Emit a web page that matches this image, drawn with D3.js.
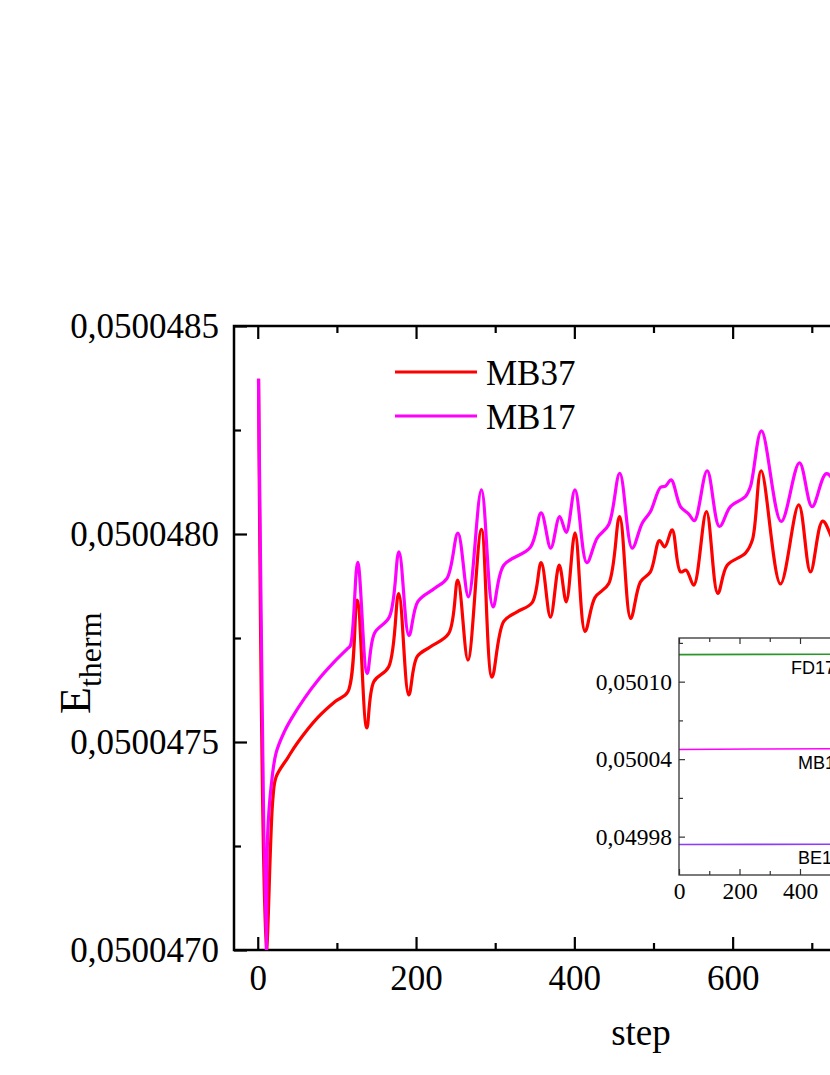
<!DOCTYPE html>
<html>
<head>
<meta charset="utf-8">
<script src="https://cdn.jsdelivr.net/npm/d3@7"></script>
<style>
  body { margin: 0; background: #fff; }
  svg { display: block; }
</style>
</head>
<body>
<svg id="chart" width="830" height="1075"></svg>
<script>
// ---------------- data ----------------
const seriesNames = ["MB37", "MB17"];

const mb37Steps = [1, 10.6, 19, 23.2, 37.9, 49.8, 75.4, 98.2, 113.7, 125.6, 137.7, 146.6, 165.5, 178.1, 190.8,
  201.4, 218.2, 241.3, 252.7, 265.6, 282.6, 295.9, 310.8, 327.7, 346.7, 358.1, 369.8, 380.9, 389.8, 400.9,
  413.5, 426, 443.5, 457.2, 471.1, 483.5, 496.1, 507.5, 514.2, 523.6, 534.1, 541.3, 550.9, 566.9, 581.2,
  593.1, 616.2, 625, 636, 660.4, 683.5, 698.3, 713.7, 730, 749];
const mb37Values = [0.050048373, 0.050046990, 0.050047361, 0.050047416, 0.050047462, 0.050047497, 0.050047558,
  0.050047598, 0.050047620, 0.050047841, 0.050047534, 0.050047645, 0.050047681, 0.050047857, 0.050047613,
  0.050047705, 0.050047729, 0.050047761, 0.050047889, 0.050047697, 0.050048011, 0.050047656, 0.050047790,
  0.050047813, 0.050047835, 0.050047931, 0.050047800, 0.050047925, 0.050047837, 0.050048003,
  0.050047766, 0.050047847, 0.050047881, 0.050048042, 0.050047797, 0.050047885, 0.050047909, 0.050047984,
  0.050047969, 0.050048010, 0.050047909, 0.050047913, 0.050047877, 0.050048054, 0.050047857,
  0.050047925, 0.050047954, 0.050047986, 0.050048152, 0.050047880, 0.050048070, 0.050047909, 0.050048031,
  0.050047974, 0.050047938];

const mb17Steps = [1, 10.6, 12.6, 16.9, 23.2, 33.7, 42.2, 59, 75.8, 96.9, 113.7, 117.1, 126.3, 138.2, 147.4,
  166.4, 178.4, 191, 202.4, 223.2, 239.3, 252.9, 266.2, 282.6, 297.2, 310.8, 344.5, 358.1, 370.2, 381.4,
  389.8, 400.8, 415.7, 428.8, 443.5, 457.4, 473, 485.7, 496.2, 508.8, 515.1, 522.3, 534.1, 544.6, 551.7,
  567.8, 583.3, 597.2, 616.2, 622.5, 636.4, 661.3, 684.4, 700.4, 718.5, 736.4, 755.3];
const mb17Values = [0.050048373, 0.050046990, 0.050047281, 0.050047393, 0.050047474, 0.050047525, 0.050047555,
  0.050047605, 0.050047648, 0.050047693, 0.050047725, 0.050047732, 0.050047932, 0.050047665, 0.050047761,
  0.050047801, 0.050047957, 0.050047756, 0.050047838, 0.050047869, 0.050047894, 0.050048002, 0.050047849,
  0.050048106, 0.050047825, 0.050047925, 0.050047968, 0.050048051, 0.050047966, 0.050048042,
  0.050048004, 0.050048106, 0.050047931, 0.050047990, 0.050048023, 0.050048146, 0.050047966, 0.050048026,
  0.050048054, 0.050048112, 0.050048115, 0.050048130, 0.050048066, 0.050048048, 0.050048032,
  0.050048152, 0.050048018, 0.050048066, 0.050048090, 0.050048114, 0.050048248, 0.050048030, 0.050048171,
  0.050048066, 0.050048145, 0.050048106, 0.050048082];

const xMajorTicks = [0, 200, 400, 600, 800, 1000];
const xMajorLabels = ["0", "200", "400", "600", "800", "1000"];
const xMinorTicks = [100, 300, 500, 700, 900];
const yMajorTicks = [0.0500470, 0.0500475, 0.0500480, 0.0500485];
const yMajorLabels = ["0,0500470", "0,0500475", "0,0500480", "0,0500485"];
const yMinorTicks = [0.05004725, 0.05004775, 0.05004825];

// inset data
const insetNames = ["FD17", "MB17", "BE17"];
const insetSteps = [0, 250, 500, 750, 1000];
const insetFD = [0.0501209, 0.0501211, 0.0501212, 0.0501213, 0.0501214];
const insetMB = [0.0500475, 0.0500478, 0.0500480, 0.0500481, 0.0500482];
const insetBE = [0.0499739, 0.0499740, 0.0499741, 0.0499742, 0.0499742];
const insetXMajor = [0, 200, 400, 600, 800, 1000];
const insetXMajorLabels = ["0", "200", "400", "600", "800", "1000"];
const insetXMinor = [100, 300, 500, 700, 900];
const insetYMajor = [0.04998, 0.05004, 0.05010];
const insetYMajorLabels = ["0,04998", "0,05004", "0,05010"];
const insetYMinor = [0.05001, 0.05007, 0.05013];

// ---------------- drawing ----------------
const W = 830;
const svg = d3.select("#chart");
svg.append("rect").attr("width", 830).attr("height", 1075).attr("fill", "#fff");
const serif = "'Liberation Serif','Times New Roman',serif";
const sans = "'Liberation Sans',Arial,sans-serif";

const L = 234, T = 326, B = 950;
const x = d3.scaleLinear().domain([-30, 1030]).range([L, L + 1060 * 0.7915]);
const y = d3.scaleLinear().domain([0.0500470, 0.0500485]).range([B, T]);
const R = x.range()[1];

svg.append("clipPath").attr("id", "plotclip")
  .append("rect").attr("x", L).attr("y", T).attr("width", R - L).attr("height", B - T);

function styleAxis(g, size) {
  g.select(".domain").remove();
  g.selectAll("line").attr("stroke", "#000").attr("stroke-width", 2.2);
  g.selectAll("text").attr("font-family", serif).attr("font-size", size).attr("fill", "#000");
}
// labels whose anchor lies past the page edge are cropped away in the reference
const inView = (sc, labels) => (d, i) => sc(d) < W ? labels[i] : "";

// bottom axis
svg.append("g").attr("transform", `translate(0,${B})`)
  .call(d3.axisBottom(x).tickValues(xMajorTicks).tickSizeInner(-13).tickSizeOuter(0).tickPadding(15)
    .tickFormat(inView(x, xMajorLabels)))
  .call(g => styleAxis(g, 35));
svg.append("g").attr("transform", `translate(0,${B})`)
  .call(d3.axisBottom(x).tickValues(xMinorTicks).tickSizeInner(-7).tickSizeOuter(0).tickFormat(""))
  .call(g => styleAxis(g, 35));
// top axis
svg.append("g").attr("transform", `translate(0,${T})`)
  .call(d3.axisTop(x).tickValues(xMajorTicks).tickSizeInner(-13).tickSizeOuter(0).tickFormat(""))
  .call(g => styleAxis(g, 35));
svg.append("g").attr("transform", `translate(0,${T})`)
  .call(d3.axisTop(x).tickValues(xMinorTicks).tickSizeInner(-7).tickSizeOuter(0).tickFormat(""))
  .call(g => styleAxis(g, 35));
// left axis
svg.append("g").attr("transform", `translate(${L},0)`)
  .call(d3.axisLeft(y).tickValues(yMajorTicks).tickSizeInner(-13).tickSizeOuter(0).tickPadding(15)
    .tickFormat((d, i) => yMajorLabels[i]))
  .call(g => styleAxis(g, 35));
svg.append("g").attr("transform", `translate(${L},0)`)
  .call(d3.axisLeft(y).tickValues(yMinorTicks).tickSizeInner(-7).tickSizeOuter(0).tickFormat(""))
  .call(g => styleAxis(g, 35));
// right axis
svg.append("g").attr("transform", `translate(${R},0)`)
  .call(d3.axisRight(y).tickValues(yMajorTicks).tickSizeInner(-13).tickSizeOuter(0).tickFormat(""))
  .call(g => styleAxis(g, 35));

// frame
svg.append("rect").attr("x", L).attr("y", T).attr("width", R - L).attr("height", B - T)
  .attr("fill", "none").attr("stroke", "#000").attr("stroke-width", 2.5);

// lines
const line = d3.line().curve(d3.curveCatmullRom.alpha(0.5)).x(d => x(d[0])).y(d => y(d[1]));
const plot = svg.append("g").attr("clip-path", "url(#plotclip)");
const mb37 = mb37Steps.map((s, i) => [s, mb37Values[i]]);
const mb17 = mb17Steps.map((s, i) => [s, mb17Values[i]]);
const colors = { MB37: "#ff0000", MB17: "#ff00ff" };
plot.append("path").datum(mb37).attr("d", line).attr("fill", "none")
  .attr("stroke", colors.MB37).attr("stroke-width", 3.2).attr("stroke-linejoin", "round");
plot.append("path").datum(mb17).attr("d", line).attr("fill", "none")
  .attr("stroke", colors.MB17).attr("stroke-width", 3.2).attr("stroke-linejoin", "round");

// legend
const legend = svg.append("g");
seriesNames.forEach((n, i) => {
  const ly = 372 + i * 44;
  legend.append("line").attr("x1", 395).attr("x2", 477).attr("y1", ly).attr("y2", ly)
    .attr("stroke", colors[n]).attr("stroke-width", 3.2);
  legend.append("text").attr("x", 486).attr("y", ly + 13).text(n)
    .attr("font-family", serif).attr("font-size", 35).attr("fill", "#000");
});

// axis titles
svg.append("text").attr("x", 641).attr("y", 1045).attr("text-anchor", "middle")
  .attr("font-family", serif).attr("font-size", 37).text("step");
const yt = svg.append("text").attr("transform", "translate(90,714) rotate(-90)")
  .attr("text-anchor", "start").attr("font-family", serif);
yt.append("tspan").attr("font-size", 44).text("E");
yt.append("tspan").attr("font-size", 32).attr("dy", 11).text("therm");

// ---------------- inset ----------------
const IL = 679, IT = 638, IB = 875;
const ix = d3.scaleLinear().domain([0, 1000]).range([IL, IL + 302.5]);
const iy = d3.scaleLinear().domain([0.0499503, 0.0501338]).range([IB, IT]);
const IR = ix.range()[1];
const inset = svg.append("g");
inset.append("rect").attr("x", IL).attr("y", IT).attr("width", IR - IL).attr("height", IB - IT).attr("fill", "#fff");
svg.append("clipPath").attr("id", "insetclip")
  .append("rect").attr("x", IL).attr("y", IT).attr("width", IR - IL).attr("height", IB - IT);

function styleInset(g) {
  g.select(".domain").remove();
  g.selectAll("line").attr("stroke", "#333").attr("stroke-width", 1.2);
  g.selectAll("text").attr("font-family", serif).attr("font-size", 23.5).attr("fill", "#000");
}
inset.append("g").attr("transform", `translate(0,${IB})`)
  .call(d3.axisBottom(ix).tickValues(insetXMajor).tickSizeInner(-6).tickSizeOuter(0).tickPadding(7)
    .tickFormat(inView(ix, insetXMajorLabels))).call(styleInset);
inset.append("g").attr("transform", `translate(0,${IB})`)
  .call(d3.axisBottom(ix).tickValues(insetXMinor).tickSizeInner(-4).tickSizeOuter(0).tickFormat("")).call(styleInset);
inset.append("g").attr("transform", `translate(0,${IT})`)
  .call(d3.axisTop(ix).tickValues(insetXMajor).tickSizeInner(-6).tickSizeOuter(0).tickFormat("")).call(styleInset);
inset.append("g").attr("transform", `translate(0,${IT})`)
  .call(d3.axisTop(ix).tickValues(insetXMinor).tickSizeInner(-4).tickSizeOuter(0).tickFormat("")).call(styleInset);
inset.append("g").attr("transform", `translate(${IL},0)`)
  .call(d3.axisLeft(iy).tickValues(insetYMajor).tickSizeInner(-6).tickSizeOuter(0).tickPadding(7)
    .tickFormat((d, i) => insetYMajorLabels[i])).call(styleInset);
inset.append("g").attr("transform", `translate(${IL},0)`)
  .call(d3.axisLeft(iy).tickValues(insetYMinor).tickSizeInner(-4).tickSizeOuter(0).tickFormat("")).call(styleInset);

const iline = d3.line().x(d => ix(d[0])).y(d => iy(d[1]));
const insetColors = { FD17: "#2a962a", MB17: "#ff00ff", BE17: "#8b3dff" };
const insetSeries = { FD17: insetFD, MB17: insetMB, BE17: insetBE };
const ip = inset.append("g").attr("clip-path", "url(#insetclip)");
insetNames.forEach(n => {
  ip.append("path").datum(insetSteps.map((s, i) => [s, insetSeries[n][i]]))
    .attr("d", iline).attr("fill", "none").attr("stroke", insetColors[n]).attr("stroke-width", 1.6);
});
inset.append("rect").attr("x", IL).attr("y", IT).attr("width", IR - IL).attr("height", IB - IT)
  .attr("fill", "none").attr("stroke", "#333").attr("stroke-width", 1.3);

const insetLabelPos = { FD17: [791, 674], MB17: [798, 769], BE17: [798, 864] };
insetNames.forEach(n => {
  inset.append("text").attr("x", insetLabelPos[n][0]).attr("y", insetLabelPos[n][1]).text(n)
    .attr("font-family", sans).attr("font-size", 18).attr("fill", "#000");
});
</script>
</body>
</html>
